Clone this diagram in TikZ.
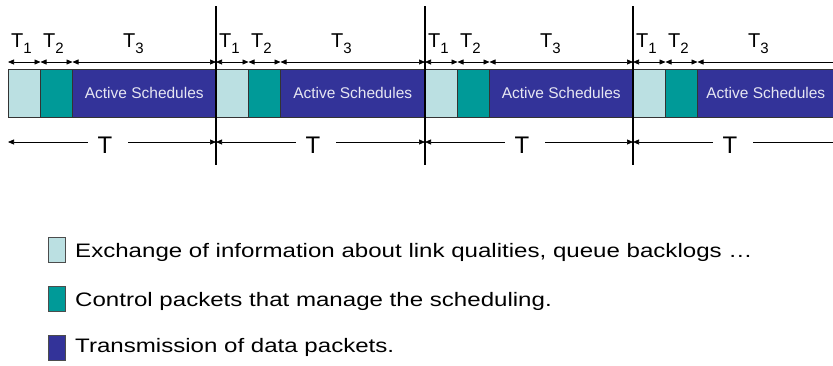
\documentclass[tikz,border=0pt]{standalone}
\usepackage{fontspec}
\setmainfont{Liberation Sans}
\usetikzlibrary{arrows.meta}
\definecolor{cLight}{HTML}{BBE0E2}
\definecolor{cTeal}{HTML}{009A98}
\definecolor{cBlue}{HTML}{333399}
\definecolor{cText}{HTML}{E6E6F2}
\newcommand{\Tsub}[1]{T\raisebox{-6pt}{\fontsize{15}{15}\selectfont #1}}
\newcommand{\wide}[1]{\scalebox{1.235}[1]{#1}}
\begin{document}
\begin{tikzpicture}[x=1pt,y=-1pt,
  seg/.style={draw=black!80, line width=0.8pt, minimum height=48pt, inner sep=0pt, outer sep=0pt, anchor=north west},
  dim/.style={line width=0.7pt, black},
  vline/.style={line width=2.6pt, black},
  lbl/.style={anchor=base west, inner sep=0pt, font=\fontsize{20}{20}\selectfont},
  legbox/.style={draw=black!70, line width=0.8pt, minimum width=17pt, minimum height=25pt, inner sep=0pt, anchor=north west},
  legtxt/.style={anchor=base west, inner sep=0pt, font=\fontsize{19.5}{20}\selectfont}]
\useasboundingbox (0,0) rectangle (833,365);
\foreach \i/\s/\e in {1/8/216,2/216/425,3/425/633,4/633/834}{
  \pgfmathsetmacro\w{\e-\s-64.5}
  \node[seg, fill=cLight, minimum width=32.5pt] (a\i) at (\s,69) {};
  \node[seg, fill=cTeal, minimum width=32pt] (b\i) at (a\i.north east) {};
  \node[seg, fill=cBlue, minimum width=\w pt, text=cText, font=\fontsize{15.5}{16}\selectfont] (c\i) at (b\i.north east) {Active Schedules};
  % dimension arrows
  \coordinate (p\i) at (\s,62);
  \coordinate (q\i) at (\s+32.5,62);
  \coordinate (r\i) at (\s+64.5,62);
  \coordinate (s\i) at (\e,62);
  \draw[dim,{Triangle[length=6pt,width=5pt]}-{Triangle[length=6pt,width=5pt]}] (p\i) -- (q\i);
  \draw[dim,{Triangle[length=6pt,width=5pt]}-{Triangle[length=6pt,width=5pt]}] (q\i) -- (r\i);
  \node[lbl] (ta\i) at (\s+3,47) {\Tsub{1}};
  \node[lbl] (tb\i) at (\s+35,47) {\Tsub{2}};
  \node[lbl] (tc\i) at (\s+115,47) {\Tsub{3}};
  % period T
  \node[anchor=base, inner sep=0pt, font=\fontsize{24}{24}\selectfont] (T\i) at (\s+97,153) {T};
  \coordinate (u\i) at (\s,142);
  \coordinate (v\i) at (\s+80,142);
  \coordinate (w\i) at (\s+120,142);
  \coordinate (z\i) at (\e,142);
  \draw[dim,{Triangle[length=6pt,width=5pt]}-] (u\i) -- (v\i);
}
\foreach \i in {1,2,3}{
  \draw[dim,{Triangle[length=6pt,width=5pt]}-{Triangle[length=6pt,width=5pt]}] (r\i) -- (s\i);
  \draw[dim,-{Triangle[length=6pt,width=5pt]}] (w\i) -- (z\i);
}
\draw[dim,{Triangle[length=6pt,width=5pt]}-] (r4) -- (s4);
\draw[dim] (w4) -- (z4);
% vertical separators
\foreach \i/\x in {1/216,2/425,3/633}{
  \coordinate (vt\i) at (\x,6);
  \coordinate (vb\i) at (\x,165);
  \draw[vline] (vt\i) -- (vb\i);
}
% legend
\node[legbox, fill=cLight] (k1) at (48,237) {};
\node[legbox, fill=cTeal] (k2) at (48,286) {};
\node[legbox, fill=cBlue] (k3) at (48,335) {};
\node[legtxt] (l1) at (75,257) {\wide{Exchange of information about link qualities, queue backlogs …}};
\node[legtxt] (l2) at (75,306) {\wide{Control packets that manage the scheduling.}};
\node[legtxt] (l3) at (75,352) {\wide{Transmission of data packets.}};
\end{tikzpicture}
\end{document}
